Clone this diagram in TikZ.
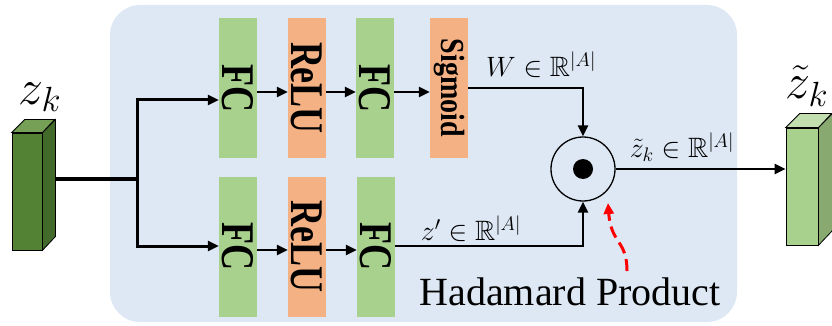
\RequirePackage{fix-cm}
\documentclass[tikz,border=0pt]{standalone}
\usepackage{fontspec}
\setmainfont{Liberation Serif}
\usepackage{amssymb}
\usepackage{graphicx}
\usetikzlibrary{arrows.meta}
\definecolor{bgblue}{HTML}{DEE8F5}
\definecolor{fcgreen}{HTML}{A9D18E}
\definecolor{fcgreenside}{HTML}{88AA70}
\definecolor{fcgreentop}{HTML}{C3DFB0}
\definecolor{relorange}{HTML}{F4B183}
\definecolor{dkgreen}{HTML}{548235}
\definecolor{dkgreenside}{HTML}{426A2A}
\definecolor{dkgreentop}{HTML}{76A055}
\newcommand{\boxtext}[2][1.3]{\rotatebox{-90}{\scalebox{1}[#1]{#2}}}
\begin{document}
\begin{tikzpicture}[x=1pt,y=-1pt,
  fcbox/.style={fill=fcgreen, minimum width=38pt, minimum height=140pt, inner sep=0pt, font=\fontsize{36}{36}\selectfont\bfseries},
  relubox/.style={fcbox, fill=relorange},
  arr/.style={line width=2.6pt, -{Triangle[length=11pt,width=10pt]}},
  mainline/.style={line width=3.2pt},
  lab/.style={inner sep=0pt, font=\fontsize{28}{32}\selectfont},
  cube/.style={draw=black, line width=0.8pt}
]
\useasboundingbox (0,0) rectangle (832,326);
% background panel
\fill[bgblue, rounded corners=30pt] (110,5) rectangle (737,322);

% top branch
\node[fcbox]   (fc1t) at (238,88)  {\boxtext{FC}};
\node[relubox] (relut) at (307,88) {\boxtext{ReLU}};
\node[fcbox]   (fc2t) at (375,88)  {\boxtext{FC}};
\node[relubox, font=\fontsize{28}{28}\selectfont\bfseries] (sig) at (449,88) {\boxtext[1.2]{Sigmoid}};
% bottom branch
\node[fcbox]   (fc1b) at (238,246.5) {\boxtext{FC}};
\node[relubox] (relub) at (307,246.5) {\boxtext{ReLU}};
\node[fcbox]   (fc2b) at (376,246.5) {\boxtext{FC}};

% hadamard
\node[circle, draw=black, line width=1.3pt, minimum size=64pt, inner sep=0pt] (had) at (583,169) {};
\node[circle, fill=black, minimum size=20pt, inner sep=0pt] (dot) at (had.center) {};

% left cube
\node[fill=dkgreen, draw=black, line width=0.8pt, minimum width=30pt, minimum height=117pt, inner sep=0pt] (lcf) at (27,191.5) {};
\coordinate (split) at (137,179);
\draw[mainline] (lcf.east |- split) -- (split);
\filldraw[cube, fill=dkgreenside] (lcf.north east) -- ++(13,-13) -- ++(0,117) -- (lcf.south east) -- cycle;
\filldraw[cube, fill=dkgreentop] (lcf.north west) -- ++(13,-13) -- ++(30,0) -- (lcf.north east) -- cycle;
\node[inner sep=0pt, font=\fontsize{50}{60}\selectfont] (zk) at (40,97) {$z_k$};

% right cube
\node[fill=fcgreen, draw=black, line width=0.8pt, minimum width=32pt, minimum height=117pt, inner sep=0pt] (rcf) at (802,186.5) {};
\filldraw[cube, fill=fcgreenside] (rcf.north east) -- ++(14,-14) -- ++(0,117) -- (rcf.south east) -- cycle;
\filldraw[cube, fill=fcgreentop] (rcf.north west) -- ++(14,-14) -- ++(32,0) -- (rcf.north east) -- cycle;
\node[inner sep=0pt, font=\fontsize{50}{60}\selectfont] (zkt) at (807,86) {$\tilde{z}_k$};

% connectors
\draw[arr, line width=3pt] (split) |- (fc1t.west |- 0,100);
\draw[arr, line width=3pt] (split) |- (fc1b.west |- 0,246);
\draw[arr] (fc1t.east |- 0,92) -- (relut.west |- 0,92);
\draw[arr] (relut.east |- 0,92) -- (fc2t.west |- 0,92);
\draw[arr] (fc2t.east |- 0,92) -- (sig.west |- 0,92);
\draw[arr] (fc1b.east |- 0,250) -- (relub.west |- 0,250);
\draw[arr] (relub.east |- 0,250) -- (fc2b.west |- 0,250);
\draw[arr] (sig.east |- 0,88) -| (had.north);
\draw[arr] (fc2b.east |- 0,246) -| (had.south);
\draw[arr] (had.east) -- (rcf.west |- had.east);

% labels
\node[lab] (wlab) at (541,65) {$W\in\mathbb{R}^{|A|}$};
\node[lab] (zplab) at (471,229) {$z'\in\mathbb{R}^{|A|}$};
\node[lab] (ztlab) at (682,147) {$\tilde{z}_k\in\mathbb{R}^{|A|}$};
\node[inner sep=0pt, font=\fontsize{40}{48}\selectfont] (hp) at (570,292) {Hadamard Product};

% red dashed pointer
\coordinate (rs) at (627,271);
\coordinate (re) at (608,203);
\draw[red, line width=3pt, dash pattern=on 12pt off 6pt, -{Triangle[length=11pt,width=10pt]}] (rs) .. controls (627,240) and (611,244) .. (re);
\end{tikzpicture}
\end{document}
